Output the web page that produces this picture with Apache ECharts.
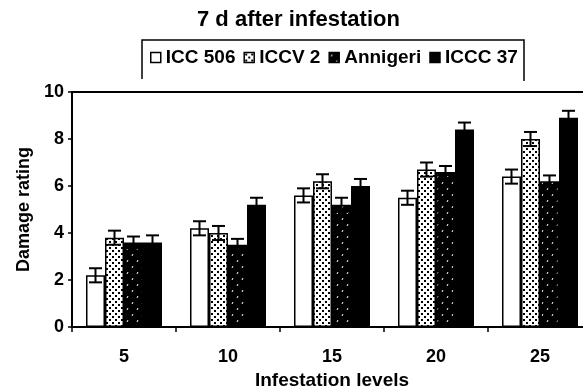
<!DOCTYPE html>
<html>
<head>
<meta charset="utf-8">
<script src="https://cdn.jsdelivr.net/npm/echarts@6/dist/echarts.min.js"></script>
<style>
  html, body { margin: 0; padding: 0; background: #fff; }
  #chart { width: 583px; height: 386px; }
</style>
</head>
<body>
<div id="chart"></div>
<script>
// infestation levels on the x axis
const categories = ['5', '10', '15', '20', '25'];
const seriesNames = ['ICC 506', 'ICCV 2', 'Annigeri', 'ICCC 37'];

// mean damage rating per genotype
const icc506 = [2.2, 4.2, 5.6, 5.5, 6.4];
const iccv2 = [3.8, 4.0, 6.2, 6.7, 8.0];
const annigeri = [3.6, 3.5, 5.2, 6.6, 6.2];
const iccc37 = [3.6, 5.2, 6.0, 8.4, 8.9];

// standard errors
const icc506Err = [0.3, 0.3, 0.3, 0.3, 0.3];
const iccv2Err = [0.3, 0.3, 0.3, 0.3, 0.3];
const annigeriErr = [0.25, 0.25, 0.3, 0.25, 0.25];
const iccc37Err = [0.3, 0.3, 0.3, 0.3, 0.3];

const yTicks = [0, 2, 4, 6, 8, 10];

const means = [icc506, iccv2, annigeri, iccc37];
const errs = [icc506Err, iccv2Err, annigeriErr, iccc37Err];

const FONT = '"Liberation Sans", Arial, sans-serif';
const BAR_W = 19;

// stipple pattern (ICCV 2)
function dotPattern() {
  const c = document.createElement('canvas');
  c.width = 6; c.height = 6;
  const ctx = c.getContext('2d');
  ctx.fillStyle = '#fff';
  ctx.fillRect(0, 0, 6, 6);
  ctx.fillStyle = '#000';
  ctx.fillRect(1, 1, 2, 2);
  ctx.fillRect(4, 4, 2, 2);
  return c;
}

// dark pattern with small white specks (Annigeri)
function speckPattern() {
  const c = document.createElement('canvas');
  c.width = 10; c.height = 12;
  const ctx = c.getContext('2d');
  ctx.fillStyle = '#000';
  ctx.fillRect(0, 0, 10, 12);
  ctx.strokeStyle = '#fff';
  ctx.lineWidth = 1;
  ctx.beginPath();
  ctx.moveTo(2, 4); ctx.lineTo(3, 2);
  ctx.moveTo(7, 10); ctx.lineTo(8, 8);
  ctx.stroke();
  return c;
}

const fills = [
  '#fff',
  { image: dotPattern(), repeat: 'repeat' },
  { image: speckPattern(), repeat: 'repeat' },
  '#000'
];

const chart = echarts.init(document.getElementById('chart'));

const barSeries = seriesNames.map((name, i) => ({
  name: name,
  type: 'bar',
  barWidth: BAR_W,
  barGap: '0%',
  data: means[i],
  itemStyle: { color: fills[i], borderColor: '#000', borderWidth: 1.5 },
  silent: true
}));

// error bar data: [categoryIndex, mean, err, seriesIndex]
const errData = [];
means.forEach((arr, s) => {
  arr.forEach((v, c) => errData.push([c, v, errs[s][c], s]));
});

const errSeries = {
  type: 'custom',
  name: 'err',
  data: errData,
  encode: { x: 0, y: 1 },
  z: 5,
  silent: true,
  renderItem: function (params, api) {
    const c = api.value(0);
    const v = api.value(1);
    const e = api.value(2);
    const s = api.value(3);
    const mid = api.coord([c, v]);
    const x = mid[0] + (s - 1.5) * BAR_W;
    const hi = api.coord([c, v + e])[1];
    const lo = api.coord([c, v - e])[1];
    const half = 6.5;
    const st = { stroke: '#000', lineWidth: 2 };
    return {
      type: 'group',
      children: [
        { type: 'line', shape: { x1: x, y1: hi, x2: x, y2: lo }, style: st },
        { type: 'line', shape: { x1: x - half, y1: hi, x2: x + half, y2: hi }, style: st },
        { type: 'line', shape: { x1: x - half, y1: lo, x2: x + half, y2: lo }, style: st }
      ]
    };
  }
};

const option = {
  backgroundColor: '#fff',
  animation: false,
  title: {
    text: '7 d after infestation',
    left: 197,
    top: 9,
    padding: 0,
    textStyle: { fontFamily: FONT, fontSize: 22, fontWeight: 'bold', color: '#000' }
  },
  legend: {
    left: 150,
    top: 48,
    padding: 0,
    itemWidth: 10,
    itemHeight: 10,
    itemGap: 8,
    selectedMode: false,
    textStyle: { fontFamily: FONT, fontSize: 19, fontWeight: 'bold', color: '#000' },
    data: seriesNames.map((n, i) => ({
      name: n,
      icon: 'rect',
      itemStyle: { color: fills[i], borderColor: '#000', borderWidth: 1.5 }
    }))
  },
  graphic: [{
    type: 'polyline',
    shape: { points: [[142, 79], [142, 40], [524, 40], [524, 81]] },
    style: { stroke: '#000', lineWidth: 1.5, fill: null }
  }],
  grid: {
    left: 72,
    top: 92,
    bottom: 59,
    right: -9,
    outerBoundsMode: 'none'
  },
  xAxis: [{
    type: 'category',
    data: categories,
    name: 'Infestation levels',
    nameLocation: 'middle',
    nameGap: 43,
    nameTextStyle: { fontFamily: FONT, fontSize: 19, fontWeight: 'bold', color: '#000' },
    axisLine: { lineStyle: { color: '#000', width: 2 } },
    axisTick: { show: true, length: 5, lineStyle: { color: '#000', width: 1.5 } },
    axisLabel: { margin: 21, fontFamily: FONT, fontSize: 18, fontWeight: 'bold', color: '#000' }
  }, {
    // top frame line of the plot
    type: 'category',
    position: 'top',
    data: categories,
    axisLine: { show: true, lineStyle: { color: '#000', width: 2 } },
    axisTick: { show: false },
    axisLabel: { show: false }
  }],
  yAxis: {
    type: 'value',
    min: yTicks[0],
    max: yTicks[yTicks.length - 1],
    interval: 2,
    name: 'Damage rating',
    nameLocation: 'middle',
    nameGap: 28,
    nameTextStyle: { fontFamily: FONT, fontSize: 18, fontWeight: 'bold', color: '#000' },
    axisLine: { show: true, lineStyle: { color: '#000', width: 2 } },
    axisTick: { show: true, length: 4, lineStyle: { color: '#000', width: 1.5 } },
    axisLabel: { margin: 8, fontFamily: FONT, fontSize: 18, fontWeight: 'bold', color: '#000' },
    splitLine: { show: false }
  },
  series: barSeries.concat([errSeries])
};

chart.setOption(option);
</script>
</body>
</html>
